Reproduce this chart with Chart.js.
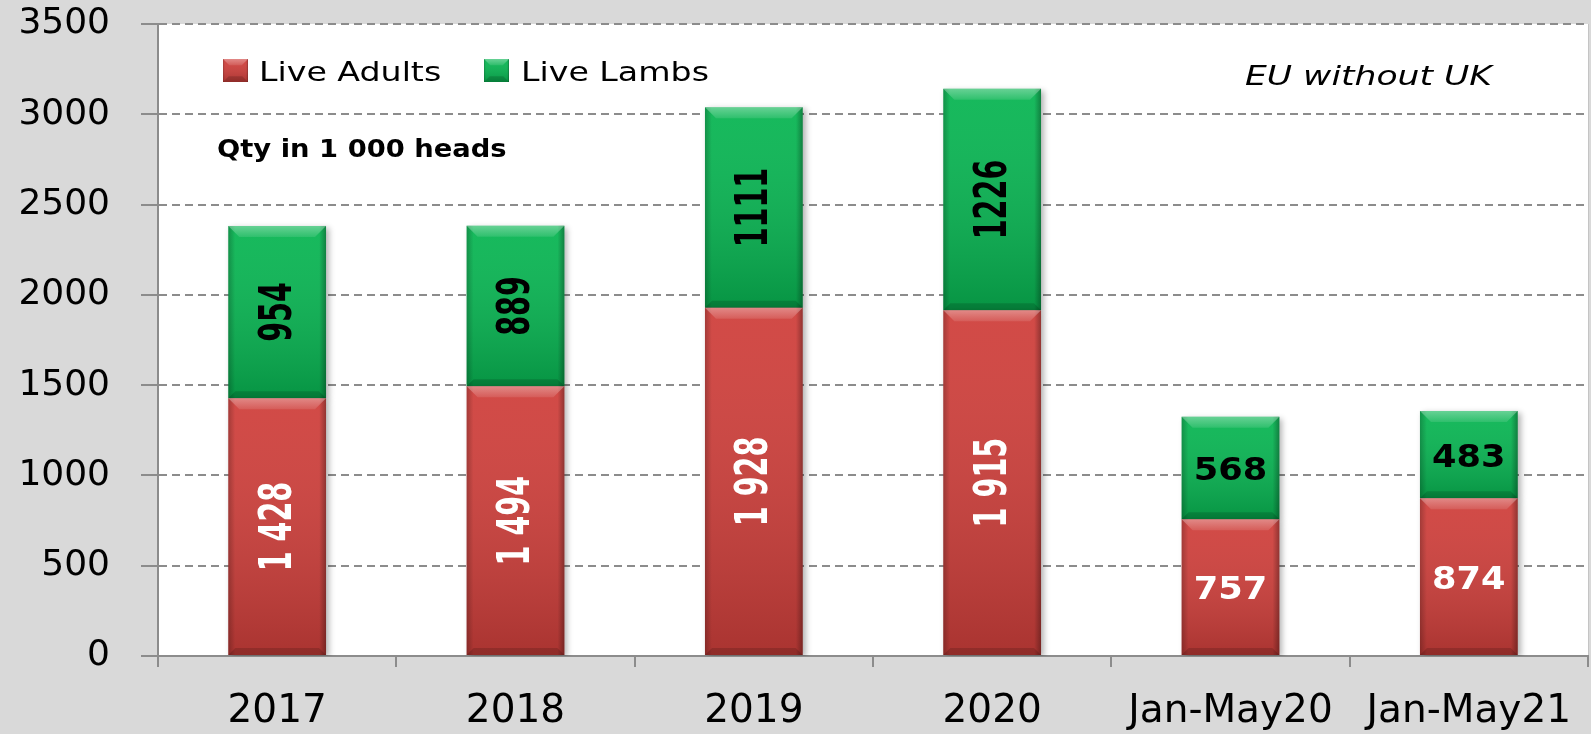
<!DOCTYPE html>
<html>
<head>
<meta charset="utf-8">
<script src="https://cdn.jsdelivr.net/npm/chart.js@4.4.0/dist/chart.umd.min.js"></script>
<style>
  html, body { margin: 0; padding: 0; background: #d9d9d9; }
  #wrap { width: 1591px; height: 734px; position: relative; }
</style>
</head>
<body>
<div id="wrap"><canvas id="chart"></canvas></div>
<script>
'use strict';

// data
const CATEGORIES = ['2017', '2018', '2019', '2020', 'Jan-May20', 'Jan-May21'];
const LIVE_ADULTS = [1428, 1494, 1928, 1915, 757, 874];
const LIVE_LAMBS = [954, 889, 1111, 1226, 568, 483];
const Y_MIN = 0, Y_MAX = 3500, Y_STEP = 500;
const VERTICAL_LABEL_CATS = 4;   // full years get rotated value labels

const FONT = "'DejaVu Sans', sans-serif";
const COLORS = {
  adults: '#cf3f3b',
  lambs: '#08b552',
  grid: '#8c8c8c',
  bg: '#d9d9d9'
};

function fmtAdults(v) { return v >= 1000 ? Math.floor(v / 1000) + ' ' + String(v % 1000).padStart(3, '0') : String(v); }
function fmtLambs(v) { return String(v); }

function drawText(ctx, txt, x, y, o) {
  ctx.save();
  ctx.translate(x, y);
  if (o.rot) ctx.rotate(o.rot);
  ctx.scale(o.sx || 1, o.sy || 1);
  ctx.font = o.font;
  ctx.fillStyle = o.color || '#000';
  ctx.textAlign = o.align || 'left';
  ctx.textBaseline = o.baseline || 'alphabetic';
  ctx.fillText(txt, 0, 0);
  ctx.restore();
}

// bevel look on a rectangle
function bevel(ctx, l, t, r, b) {
  const w = r - l, h = b - t;
  ctx.save();
  let g = ctx.createLinearGradient(0, t, 0, b);
  g.addColorStop(0, 'rgba(255,255,255,0.06)');
  g.addColorStop(1, 'rgba(0,0,0,0.18)');
  ctx.fillStyle = g;
  ctx.fillRect(l, t, w, h);
  g = ctx.createLinearGradient(l, 0, r, 0);
  g.addColorStop(0, 'rgba(0,0,0,0.22)');
  g.addColorStop(0.07, 'rgba(0,0,0,0)');
  g.addColorStop(0.93, 'rgba(0,0,0,0)');
  g.addColorStop(1, 'rgba(0,0,0,0.3)');
  ctx.fillStyle = g;
  ctx.fillRect(l, t, w, h);
  const d = Math.min(11, h / 3, w / 4);
  g = ctx.createLinearGradient(0, t, 0, t + d);
  g.addColorStop(0, 'rgba(255,255,255,0.35)');
  g.addColorStop(1, 'rgba(255,255,255,0.1)');
  ctx.fillStyle = g;
  ctx.beginPath();
  ctx.moveTo(l, t); ctx.lineTo(r, t); ctx.lineTo(r - d, t + d); ctx.lineTo(l + d, t + d);
  ctx.closePath(); ctx.fill();
  const e = Math.min(7, h / 4);
  ctx.fillStyle = 'rgba(0,0,0,0.15)';
  ctx.beginPath();
  ctx.moveTo(l, b); ctx.lineTo(r, b); ctx.lineTo(r - e, b - e); ctx.lineTo(l + e, b - e);
  ctx.closePath(); ctx.fill();
  ctx.restore();
}

const decor = {
  id: 'decor',
  beforeDraw(chart) {
    const { ctx, chartArea: a } = chart;
    ctx.save();
    ctx.fillStyle = COLORS.bg;
    ctx.fillRect(0, 0, chart.width, chart.height);
    ctx.fillStyle = '#ffffff';
    ctx.fillRect(a.left, a.top, a.right - a.left, a.bottom - a.top);
    ctx.strokeStyle = '#c4c4c4';
    ctx.lineWidth = 1;
    ctx.beginPath();
    ctx.moveTo(a.right + 0.5, a.top);
    ctx.lineTo(a.right + 0.5, a.bottom);
    ctx.stroke();
    ctx.restore();
  },
  beforeDatasetDraw(chart) {
    const ctx = chart.ctx;
    ctx.shadowColor = 'rgba(0,0,0,0.3)';
    ctx.shadowBlur = 6;
    ctx.shadowOffsetX = 3;
    ctx.shadowOffsetY = 2;
  },
  afterDatasetDraw(chart) {
    const ctx = chart.ctx;
    ctx.shadowColor = 'rgba(0,0,0,0)';
    ctx.shadowBlur = 0;
    ctx.shadowOffsetX = 0;
    ctx.shadowOffsetY = 0;
  },
  afterDatasetsDraw(chart) {
    const ctx = chart.ctx;
    // bevels
    chart.data.datasets.forEach((ds, di) => {
      chart.getDatasetMeta(di).data.forEach(bar => {
        const p = bar.getProps(['x', 'y', 'base', 'width'], true);
        bevel(ctx, p.x - p.width / 2, Math.min(p.y, p.base), p.x + p.width / 2, Math.max(p.y, p.base));
      });
    });
    // value labels
    chart.data.datasets.forEach((ds, di) => {
      chart.getDatasetMeta(di).data.forEach((bar, i) => {
        const p = bar.getProps(['x', 'y', 'base'], true);
        const cy = (p.y + p.base) / 2;
        const txt = di === 0 ? fmtAdults(ds.data[i]) : fmtLambs(ds.data[i]);
        const color = di === 0 ? '#ffffff' : '#000000';
        if (i < VERTICAL_LABEL_CATS) {
          drawText(ctx, txt, p.x + 2, cy, { font: 'bold 44px ' + FONT, color, rot: -Math.PI / 2, sx: 0.65, align: 'center', baseline: 'middle' });
        } else {
          drawText(ctx, txt, p.x, cy + 12, { font: 'bold 32px ' + FONT, color, sx: 1.1, align: 'center', baseline: 'alphabetic' });
        }
      });
    });
    // legend inside the plot
    const legend = [
      { x: 223, tx: 259, label: chart.data.datasets[0].label, color: COLORS.adults },
      { x: 484, tx: 521, label: chart.data.datasets[1].label, color: COLORS.lambs }
    ];
    legend.forEach(it => {
      ctx.save();
      ctx.fillStyle = it.color;
      ctx.fillRect(it.x, 59, 25, 23);
      ctx.restore();
      bevel(ctx, it.x, 59, it.x + 25, 82);
      drawText(ctx, it.label, it.tx, 81, { font: '27px ' + FONT, sx: 1.23 });
    });
    drawText(ctx, 'Qty in 1 000 heads', 217, 157, { font: 'bold 24px ' + FONT, sx: 1.14 });
    drawText(ctx, 'EU without UK', 1245, 85, { font: 'italic 27px ' + FONT, sx: 1.28 });
  }
};

const ctx = document.getElementById('chart');
new Chart(ctx, {
  type: 'bar',
  data: {
    labels: CATEGORIES,
    datasets: [
      { label: 'Live Adults', data: LIVE_ADULTS, backgroundColor: COLORS.adults, stack: 's' },
      { label: 'Live Lambs', data: LIVE_LAMBS, backgroundColor: COLORS.lambs, stack: 's' }
    ]
  },
  options: {
    responsive: true,
    maintainAspectRatio: false,
    animation: false,
    layout: { padding: { top: 24, right: 3, left: 0, bottom: 0 } },
    datasets: { bar: { categoryPercentage: 1, barPercentage: 0.41 } },
    plugins: { legend: { display: false }, tooltip: { enabled: false } },
    scales: {
      x: {
        stacked: true,
        afterFit(s) { s.height = 78; s.paddingLeft = 0; s.paddingRight = 0; },
        grid: { offset: true, drawOnChartArea: false, tickLength: 11, color: COLORS.grid, lineWidth: 2 },
        border: { color: COLORS.grid, width: 2 },
        ticks: { color: '#000', padding: 21, font: { family: FONT, size: 39 } }
      },
      y: {
        stacked: true,
        min: Y_MIN,
        max: Y_MAX,
        afterFit(s) { s.width = 158; s.paddingTop = 0; s.paddingBottom = 0; },
        grid: { color: COLORS.grid, lineWidth: 2, tickLength: 17, tickBorderDash: [] },
        border: { color: COLORS.grid, width: 2, dash: [8, 5] },
        ticks: {
          stepSize: Y_STEP, color: '#000', padding: 31, font: { family: FONT, size: 36 },
          callback: v => String(v)
        }
      }
    }
  },
  plugins: [decor]
});
</script>
</body>
</html>
